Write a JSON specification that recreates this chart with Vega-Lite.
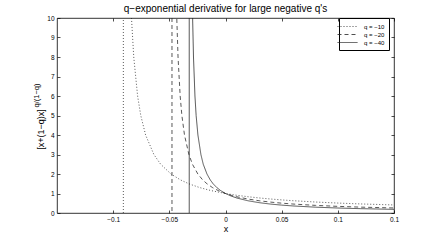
{
  "$schema": "https://vega.github.io/schema/vega-lite/v6.json",
  "width": 337,
  "height": 195,
  "autosize": {"type": "none"},
  "padding": {"left": 57, "top": 18, "right": 42, "bottom": 27},
  "background": "white",
  "config": {
    "font": "Liberation Sans",
    "view": {"stroke": "black", "strokeWidth": 0.8},
    "axis": {"grid": false, "domain": false, "tickColor": "black", "tickWidth": 0.7, "labelColor": "black", "titleColor": "black", "labelFont": "Liberation Sans", "titleFont": "Liberation Sans", "titleFontWeight": "normal", "labelOverlap": false, "labelFlush": false, "labelBound": false}
  },
  "title": {"text": "q−exponential derivative for large negative q's", "fontSize": 10, "fontWeight": "normal", "font": "Liberation Sans", "color": "black", "anchor": "middle", "offset": 1},
  "data": {"values": [
    {"series": "q = −10", "x": -0.0910, "y": -200},
    {"series": "q = −10", "x": -0.0908, "y": 452},
    {"series": "q = −10", "x": -0.085, "y": 12},
    {"series": "q = −10", "x": -0.083688, "y": 10},
    {"series": "q = −10", "x": -0.081679, "y": 8},
    {"series": "q = −10", "x": -0.078242, "y": 6},
    {"series": "q = −10", "x": -0.075428, "y": 5},
    {"series": "q = −10", "x": -0.071124, "y": 4},
    {"series": "q = −10", "x": -0.063759, "y": 3},
    {"series": "q = −10", "x": -0.057728, "y": 2.5},
    {"series": "q = −10", "x": -0.048498, "y": 2},
    {"series": "q = −10", "x": -0.040195, "y": 1.7},
    {"series": "q = −10", "x": -0.032708, "y": 1.5},
    {"series": "q = −10", "x": -0.022792, "y": 1.3},
    {"series": "q = −10", "x": -0.012955, "y": 1.15},
    {"series": "q = −10", "x": 0, "y": 1},
    {"series": "q = −10", "x": 0.005, "y": 0.9525},
    {"series": "q = −10", "x": 0.01, "y": 0.9095},
    {"series": "q = −10", "x": 0.02, "y": 0.8346},
    {"series": "q = −10", "x": 0.03, "y": 0.7716},
    {"series": "q = −10", "x": 0.04, "y": 0.7179},
    {"series": "q = −10", "x": 0.05, "y": 0.6714},
    {"series": "q = −10", "x": 0.06, "y": 0.6308},
    {"series": "q = −10", "x": 0.08, "y": 0.5633},
    {"series": "q = −10", "x": 0.10, "y": 0.5094},
    {"series": "q = −10", "x": 0.12, "y": 0.4653},
    {"series": "q = −10", "x": 0.15, "y": 0.4123},
    {"series": "q = −20", "x": -0.04770, "y": -300},
    {"series": "q = −20", "x": -0.04755, "y": 504},
    {"series": "q = −20", "x": -0.044115, "y": 12},
    {"series": "q = −20", "x": -0.043375, "y": 10},
    {"series": "q = −20", "x": -0.042255, "y": 8},
    {"series": "q = −20", "x": -0.040362, "y": 6},
    {"series": "q = −20", "x": -0.038832, "y": 5},
    {"series": "q = −20", "x": -0.036512, "y": 4},
    {"series": "q = −20", "x": -0.032594, "y": 3},
    {"series": "q = −20", "x": -0.029424, "y": 2.5},
    {"series": "q = −20", "x": -0.024620, "y": 2},
    {"series": "q = −20", "x": -0.020340, "y": 1.7},
    {"series": "q = −20", "x": -0.016510, "y": 1.5},
    {"series": "q = −20", "x": -0.011465, "y": 1.3},
    {"series": "q = −20", "x": -0.006500, "y": 1.15},
    {"series": "q = −20", "x": 0, "y": 1},
    {"series": "q = −20", "x": 0.005, "y": 0.9093},
    {"series": "q = −20", "x": 0.01, "y": 0.8340},
    {"series": "q = −20", "x": 0.02, "y": 0.7161},
    {"series": "q = −20", "x": 0.03, "y": 0.6280},
    {"series": "q = −20", "x": 0.04, "y": 0.5595},
    {"series": "q = −20", "x": 0.05, "y": 0.5048},
    {"series": "q = −20", "x": 0.06, "y": 0.4600},
    {"series": "q = −20", "x": 0.08, "y": 0.3911},
    {"series": "q = −20", "x": 0.10, "y": 0.3404},
    {"series": "q = −20", "x": 0.12, "y": 0.3016},
    {"series": "q = −20", "x": 0.15, "y": 0.2579},
    {"series": "q = −40", "x": -0.03235, "y": -300},
    {"series": "q = −40", "x": -0.03220, "y": 454},
    {"series": "q = −40", "x": -0.029784, "y": 12},
    {"series": "q = −40", "x": -0.029271, "y": 10},
    {"series": "q = −40", "x": -0.028496, "y": 8},
    {"series": "q = −40", "x": -0.027193, "y": 6},
    {"series": "q = −40", "x": -0.026143, "y": 5},
    {"series": "q = −40", "x": -0.024558, "y": 4},
    {"series": "q = −40", "x": -0.021891, "y": 3},
    {"series": "q = −40", "x": -0.019808, "y": 2.5},
    {"series": "q = −40", "x": -0.016497, "y": 2},
    {"series": "q = −40", "x": -0.013615, "y": 1.7},
    {"series": "q = −40", "x": -0.011042, "y": 1.5},
    {"series": "q = −40", "x": -0.007661, "y": 1.3},
    {"series": "q = −40", "x": -0.004338, "y": 1.15},
    {"series": "q = −40", "x": 0, "y": 1},
    {"series": "q = −40", "x": 0.005, "y": 0.8698},
    {"series": "q = −40", "x": 0.01, "y": 0.7700},
    {"series": "q = −40", "x": 0.02, "y": 0.6270},
    {"series": "q = −40", "x": 0.03, "y": 0.5293},
    {"series": "q = −40", "x": 0.04, "y": 0.4582},
    {"series": "q = −40", "x": 0.05, "y": 0.4042},
    {"series": "q = −40", "x": 0.06, "y": 0.3617},
    {"series": "q = −40", "x": 0.08, "y": 0.2991},
    {"series": "q = −40", "x": 0.10, "y": 0.2553},
    {"series": "q = −40", "x": 0.12, "y": 0.2227},
    {"series": "q = −40", "x": 0.15, "y": 0.1872}
  ]},
  "layer": [
    {
      "mark": {"type": "line", "clip": true, "strokeWidth": 0.75, "color": "#222"},
      "encoding": {
        "x": {"field": "x", "type": "quantitative", "scale": {"domain": [-0.15, 0.15], "nice": false, "zero": false},
              "axis": {"orient": "bottom", "values": [-0.1, -0.05, 0, 0.05, 0.1, 0.15], "format": "~g", "tickSize": -3, "labelPadding": 6, "labelFontSize": 6.5, "title": "x", "titleFontSize": 9, "titlePadding": 2}},
        "y": {"field": "y", "type": "quantitative", "scale": {"domain": [0, 10], "nice": false, "zero": false},
              "axis": {"orient": "left", "values": [0,1,2,3,4,5,6,7,8,9,10], "tickSize": -3, "labelPadding": 6, "labelFontSize": 6.5, "title": "[x+(1−q)x]", "titleFontSize": 9, "titleX": -12, "titleY": 111}},
        "strokeDash": {"field": "series", "type": "nominal", "scale": {"domain": ["q = −10", "q = −20", "q = −40"], "range": [[1, 2], [4, 3], [1, 0]]},
              "legend": {"orient": "none", "legendX": 282, "legendY": 0, "title": null, "strokeColor": "black", "fillColor": "white", "padding": 4, "labelFontSize": 6, "symbolType": "M-2.5,0H2.5", "symbolSize": 64, "symbolStrokeWidth": 0.8, "symbolStrokeColor": "#222", "symbolFillColor": "transparent", "rowPadding": 0, "labelOffset": 12, "cornerRadius": 0}}
      }
    },
    {
      "mark": {"type": "point", "opacity": 0, "clip": true},
      "encoding": {
        "x": {"field": "x", "type": "quantitative", "axis": {"orient": "top", "values": [-0.1, -0.05, 0, 0.05, 0.1, 0.15], "labels": false, "tickSize": -3, "title": null}},
        "y": {"field": "y", "type": "quantitative", "axis": {"orient": "right", "values": [0,1,2,3,4,5,6,7,8,9,10], "labels": false, "tickSize": -3, "title": null}}
      }
    },
    {
      "mark": {"type": "point", "opacity": 0, "clip": true},
      "encoding": {
        "x": {"field": "x", "type": "quantitative", "axis": null},
        "y": {"field": "y", "type": "quantitative", "axis": {"orient": "left", "labels": false, "ticks": false, "title": "q/(1−q)", "titleFontSize": 7.5, "titleX": -17, "titleY": 77}}
      }
    }
  ],
  "resolve": {"axis": {"x": "independent", "y": "independent"}}
}
